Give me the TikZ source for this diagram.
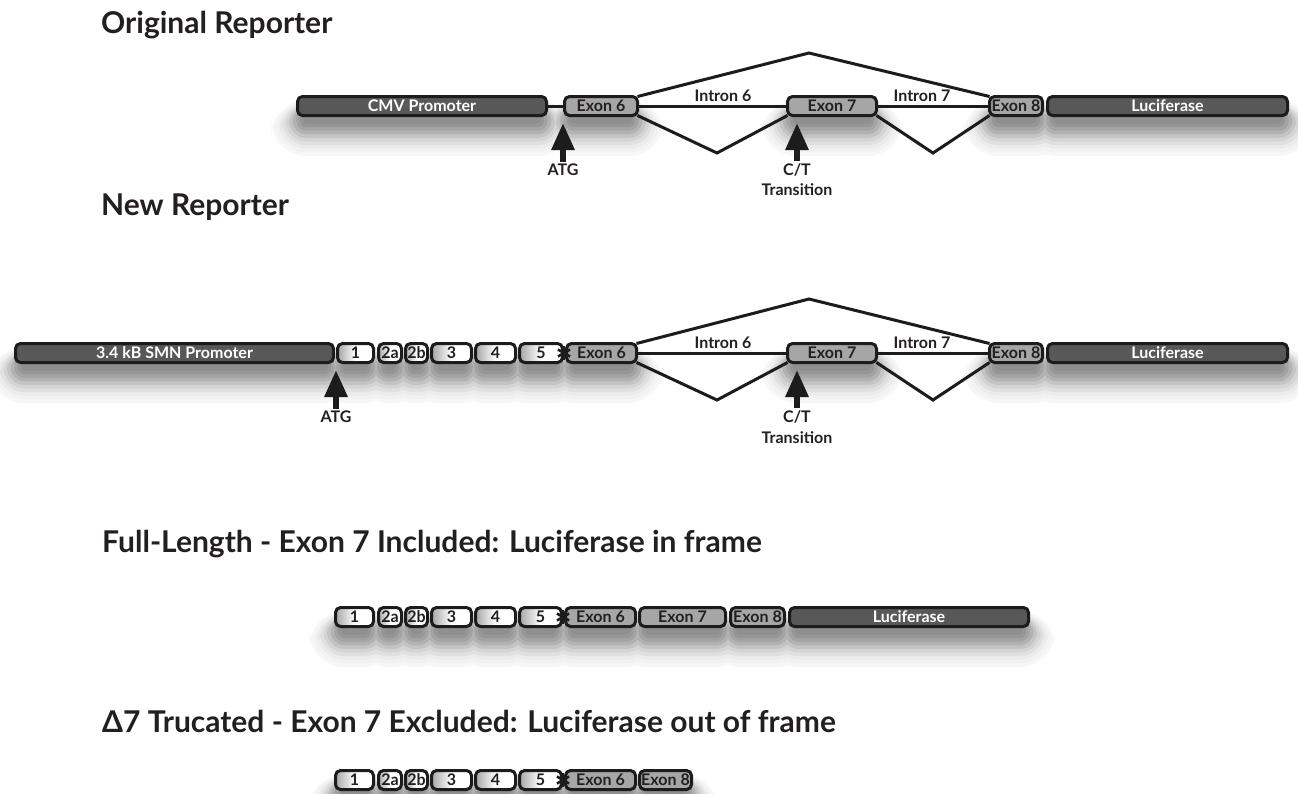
\documentclass[tikz,border=0pt]{standalone}
\usepackage{fontspec}
\setmainfont{Lato}
\usetikzlibrary{arrows.meta,calc}
\pgfdeclarelayer{background}
\pgfsetlayers{background,main}
\definecolor{darkfill}{HTML}{585858}
\definecolor{grayfill}{HTML}{A6A6A6}
\definecolor{edge}{HTML}{1C1C1C}
\definecolor{ink}{HTML}{231F20}
\tikzset{
  box/.style={draw=edge, line width=3pt, rounded corners=5pt, minimum height=19pt,
    inner sep=0pt, outer sep=0pt, anchor=west, font=\bfseries\fontsize{16}{18}\selectfont},
  darkbox/.style={box, fill=darkfill, text=white},
  graybox/.style={box, fill=grayfill, text=ink},
  whitebox/.style={box, left color=black!35, right color=white, middle color=white, text=ink},
  intron/.style={draw=edge, line width=3pt},
  splice/.style={draw=edge, line width=3pt, line join=miter},
  bigarrow/.style={draw=edge, line width=6pt, -{Triangle[length=27pt,width=22pt]}, shorten <=2pt},
  lbl/.style={text=ink, font=\bfseries\fontsize{16}{18}\selectfont, inner sep=0pt},
  title/.style={text=ink, font=\bfseries\fontsize{30}{36}\selectfont, inner sep=0pt, anchor=base west},
  starline/.style={draw=edge, line width=2.6pt},
}
\newcommand\gbox[6]{\node[#1, minimum width={#4-#3-3}] (#2) at ({#3+1.5},#5) {#6};}
\newcommand\astr[1]{%
  \draw[starline] ($(#1)+(90:7)$) -- ($(#1)+(270:7)$);
  \draw[starline] ($(#1)+(30:7)$) -- ($(#1)+(210:7)$);
  \draw[starline] ($(#1)+(150:7)$) -- ($(#1)+(330:7)$);}
\begin{document}
\begin{tikzpicture}[x=1pt,y=-1pt]
\begin{pgfonlayer}{background}
  \fill[white] (0,0) rectangle (1298,793);
\end{pgfonlayer}
\useasboundingbox (0,0) rectangle (1298,793);

% ---------- titles
\node[title] (t1) at (101,33) {Original Reporter};
\node[title] (t2) at (101,215) {New Reporter};
\node[title] (t3) at (102,552) {Full-Length - Exon 7 Included: Luciferase in frame};
\node[title] (t4) at (102,732) {Δ7 Trucated - Exon 7 Excluded: Luciferase out of frame};

% ---------- row 1: original reporter
\gbox{darkbox}{cmv}{296}{548}{106}{CMV Promoter}
\gbox{graybox}{ex6a}{563}{639}{106}{Exon 6}
\gbox{graybox}{ex7a}{786}{878}{106}{Exon 7}
\gbox{graybox}{ex8a}{988}{1044}{106}{Exon 8}
\gbox{darkbox}{luca}{1046}{1289}{106}{Luciferase}
\draw[intron] (cmv.east) -- (ex6a.west);
\draw[intron] (ex6a.east) -- (ex7a.west);
\draw[intron] (ex7a.east) -- (ex8a.west);
\coordinate (pka) at (809,53);
\coordinate (vaa) at (717,153);
\coordinate (vba) at (933,153);
\draw[splice] (ex6a.north east) -- (pka) -- (ex8a.north west);
\draw[splice] (ex6a.south east) -- (vaa) -- (ex7a.south west);
\draw[splice] (ex7a.south east) -- (vba) -- (ex8a.south west);
\node[lbl] (i6a) at (723,96) {Intron 6};
\node[lbl] (i7a) at (922,96) {Intron 7};
\coordinate (atgtipa) at (563,123);
\node[lbl] (atga) at (563,170) {ATG};
\draw[bigarrow] (atga.north) -- (atgtipa);
\coordinate (cttipa) at (797,123);
\node[lbl] (cta) at (797,170) {C/T};
\node[lbl] (tra) at (797,190) {Transition};
\draw[bigarrow] (cta.north) -- (cttipa);

% ---------- row 2: new reporter
\gbox{darkbox}{smn}{14}{335}{353}{3.4 kB SMN Promoter}
\gbox{whitebox}{e1b}{336}{375}{353}{1}
\gbox{whitebox}{e2ab}{377}{403}{353}{2a}
\gbox{whitebox}{e2bb}{404}{429}{353}{2b}
\gbox{whitebox}{e3b}{430}{473}{353}{3}
\gbox{whitebox}{e4b}{474}{517}{353}{4}
\gbox{whitebox}{e5b}{518}{564}{353}{5}
\gbox{graybox}{ex6b}{565}{638}{353}{Exon 6}
\gbox{graybox}{ex7b}{786}{878}{353}{Exon 7}
\gbox{graybox}{ex8b}{988}{1044}{353}{Exon 8}
\gbox{darkbox}{lucb}{1046}{1289}{353}{Luciferase}
\coordinate (stb) at (564,353);
\astr{stb}
\draw[intron] (ex6b.east) -- (ex7b.west);
\draw[intron] (ex7b.east) -- (ex8b.west);
\coordinate (pkb) at (809,299);
\coordinate (vab) at (717,400);
\coordinate (vbb) at (933,400);
\draw[splice] (ex6b.north east) -- (pkb) -- (ex8b.north west);
\draw[splice] (ex6b.south east) -- (vab) -- (ex7b.south west);
\draw[splice] (ex7b.south east) -- (vbb) -- (ex8b.south west);
\node[lbl] (i6b) at (723,343) {Intron 6};
\node[lbl] (i7b) at (922,343) {Intron 7};
\coordinate (atgtipb) at (336,370);
\node[lbl] (atgb) at (336,417) {ATG};
\draw[bigarrow] (atgb.north) -- (atgtipb);
\coordinate (cttipb) at (797,370);
\node[lbl] (ctb) at (797,417) {C/T};
\node[lbl] (trb) at (797,438) {Transition};
\draw[bigarrow] (ctb.north) -- (cttipb);

% ---------- row 3: full length
\gbox{whitebox}{e1c}{334}{375}{617}{1}
\gbox{whitebox}{e2ac}{377}{403}{617}{2a}
\gbox{whitebox}{e2bc}{404}{429}{617}{2b}
\gbox{whitebox}{e3c}{430}{473}{617}{3}
\gbox{whitebox}{e4c}{474}{517}{617}{4}
\gbox{whitebox}{e5c}{518}{563}{617}{5}
\gbox{graybox}{ex6c}{564}{637}{617}{Exon 6}
\gbox{graybox}{ex7c}{638}{727}{617}{Exon 7}
\gbox{graybox}{ex8c}{729}{786}{617}{Exon 8}
\gbox{darkbox}{lucc}{788}{1030}{617}{Luciferase}
\coordinate (stc) at (563,617);
\astr{stc}

% ---------- row 4: delta 7
\gbox{whitebox}{e1d}{334}{375}{780}{1}
\gbox{whitebox}{e2ad}{377}{403}{780}{2a}
\gbox{whitebox}{e2bd}{404}{429}{780}{2b}
\gbox{whitebox}{e3d}{430}{473}{780}{3}
\gbox{whitebox}{e4d}{474}{517}{780}{4}
\gbox{whitebox}{e5d}{518}{563}{780}{5}
\gbox{graybox}{ex6d}{564}{637}{780}{Exon 6}
\gbox{graybox}{ex8d}{638}{693}{780}{Exon 8}
\coordinate (std) at (563,780);
\astr{std}

% ---------- soft shadows (opaque grey levels, outermost first)
\begin{pgfonlayer}{background}
\foreach \k/\p in {9/3,8/5,7/8,6/12,5/17,4/23,3/30,2/36,1/41,0/44}{
  \pgfmathsetmacro\r{3.6*\k}
  \pgfmathsetmacro\ru{1.2*\k}
  \foreach \n in {cmv,ex6a,ex7a,ex8a,luca,smn,e1b,e2ab,e2bb,e3b,e4b,e5b,ex6b,ex7b,ex8b,lucb,
    e1c,e2ac,e2bc,e3c,e4c,e5c,ex6c,ex7c,ex8c,lucc,e1d,e2ad,e2bd,e3d,e4d,e5d,ex6d,ex8d}
    \fill[black!\p, rounded corners=3pt+\r pt]
      ($(\n.south west)+(6-\r,-4-\ru)$) rectangle ($(\n.south east)+(-6+\r,8+\r)$);
}
\end{pgfonlayer}
\end{tikzpicture}
\end{document}
